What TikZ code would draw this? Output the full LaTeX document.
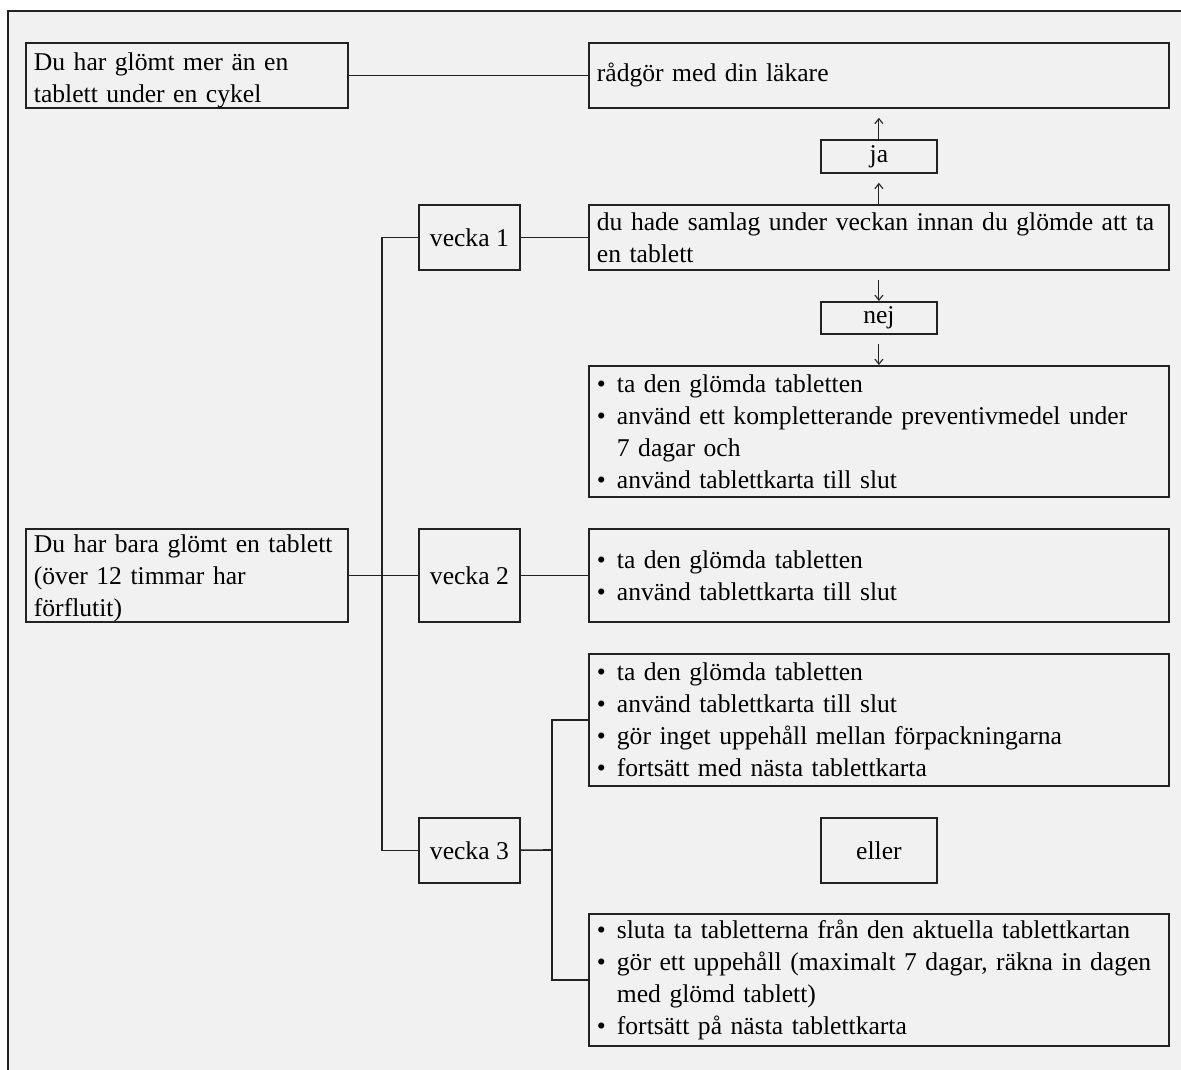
\documentclass[tikz,border=0pt]{standalone}
\usepackage{fontspec}
\setmainfont{Liberation Serif}
\usetikzlibrary{arrows.meta}
\definecolor{panel}{RGB}{241,241,241}
\definecolor{ink}{RGB}{34,34,34}
\newcommand{\dotitem}{\makebox[20pt][l]{•}}
\begin{document}
\begin{tikzpicture}[x=1pt, y=-1pt,
        box/.style={draw=ink, line width=1.8pt, anchor=north west, inner xsep=8pt, inner ysep=0pt, align=left, font=\fontsize{25.6}{32}\selectfont},
        tag/.style={draw=ink, line width=1.8pt, anchor=north west, inner sep=0pt, align=center, font=\fontsize{25.6}{32}\selectfont},
        link/.style={ink, line width=1.6pt},
        upto/.style={-{Straight Barb[length=5pt, width=8pt]}, ink, line width=1.1pt}]
        \useasboundingbox (0,0) rectangle (1181,1070);
        \fill[white] (0,0) rectangle (1181,1070);
        \fill[panel] (8,11) rectangle (1181,1070);
        \draw[ink, line width=2pt] (8,1070) -- (8,11) -- (1181,11);

        \node[box, text width=306pt, minimum height=65pt] (many) at (25,42) {\rule{0pt}{27pt}Du har glömt mer än en\\tablett under en cykel};
        \node[box, text width=564pt, minimum height=65pt] (doctor) at (588,42) {rådgör med din läkare};
        \node[tag, minimum width=116pt, minimum height=33pt] (ja) at (820,139) {ja};
        \node[tag, minimum width=101pt, minimum height=65pt] (w1) at (418,204) {vecka 1};
        \node[box, text width=564pt, minimum height=65pt] (samlag) at (588,204) {\mbox{du hade samlag under veckan innan du glömde att ta}\\en tablett};
        \node[tag, minimum width=116pt, minimum height=32pt] (nej) at (820,301) {nej};
        \node[box, text width=564pt, minimum height=131pt] (w1act) at (588,365) {\dotitem ta den glömda tabletten\\\dotitem använd ett kompletterande preventivmedel under\\\hspace*{20pt}7 dagar och\\\dotitem använd tablettkarta till slut};
        \node[box, text width=306pt, minimum height=93pt] (one) at (25,528) {\rule{0pt}{23pt}Du har bara glömt en tablett\\(över 12 timmar har\\förflutit)};
        \node[tag, minimum width=101pt, minimum height=93pt] (w2) at (418,528) {vecka 2};
        \node[box, text width=564pt, minimum height=93pt] (w2act) at (588,528) {\dotitem ta den glömda tabletten\\\dotitem använd tablettkarta till slut};
        \node[box, text width=564pt, minimum height=132pt] (w3a) at (588,653) {\dotitem ta den glömda tabletten\\\dotitem använd tablettkarta till slut\\\dotitem gör inget uppehåll mellan förpackningarna\\\dotitem fortsätt med nästa tablettkarta};
        \node[tag, minimum width=101pt, minimum height=65pt] (w3) at (418,817) {vecka 3};
        \node[tag, minimum width=116pt, minimum height=65pt] (eller) at (820,817) {eller};
        \node[box, text width=564pt, minimum height=132pt] (w3b) at (588,913) {\dotitem sluta ta tabletterna från den aktuella tablettkartan\\\dotitem \mbox{gör ett uppehåll (maximalt 7 dagar, räkna in dagen}\\\hspace*{20pt}med glömd tablett)\\\dotitem fortsätt på nästa tablettkarta};

        \draw[link] (many) -- (doctor);
        \draw[link] (w1) -- (samlag);
        \draw[link] (one) -- (w2);
        \draw[link] (w2) -- (w2act);
        \draw[link] (w1.west) -- ++(-36,0) |- (w3.west);
        \coordinate (fork3) at (552,850);
        \draw[link] (w3) -- (fork3);
        \draw[link] (w3a.west) -| (fork3) |- (w3b.west);

        \draw[upto, shorten >=9pt] (ja) -- (doctor);
        \draw[upto, shorten >=9pt] (samlag) -- (ja);
        \draw[upto, shorten <=9pt] (samlag) -- (nej);
        \draw[upto, shorten <=9pt] (nej) -- (w1act);
    \end{tikzpicture}
\end{document}
